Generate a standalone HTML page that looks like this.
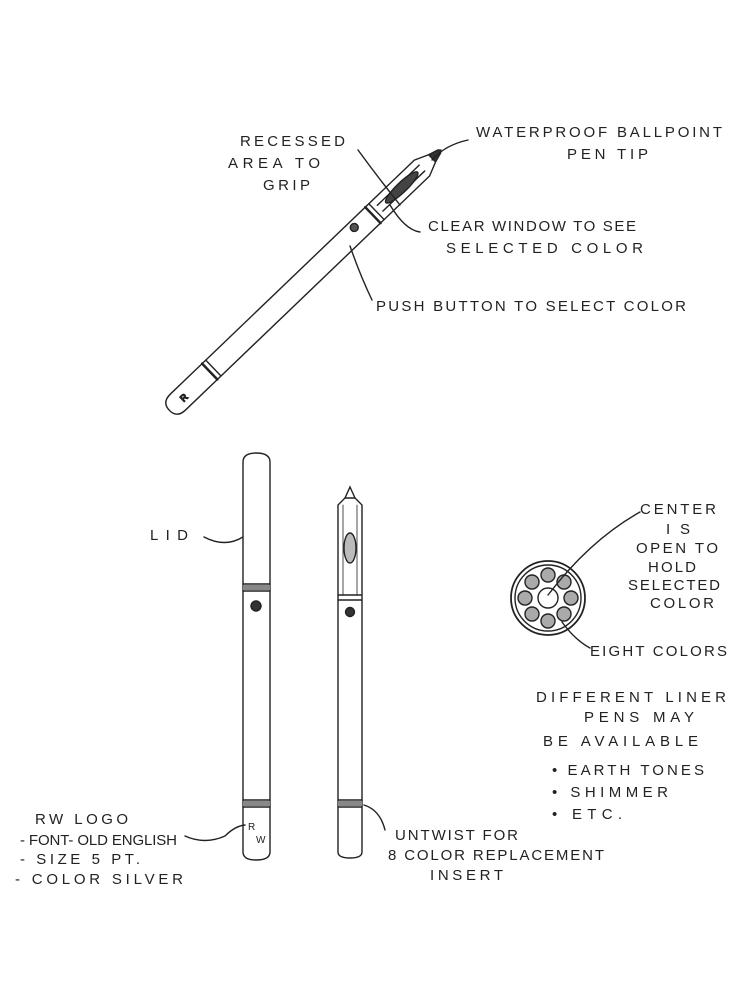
<!DOCTYPE html>
<html><head><meta charset="utf-8"><style>
html,body{margin:0;padding:0;background:#fff;}
svg{display:block}
text{font-family:"Liberation Sans",sans-serif;font-size:15px;fill:#222;}
</style></head><body>
<svg width="729" height="1000" viewBox="0 0 729 1000" xmlns="http://www.w3.org/2000/svg">
<g fill="none" stroke="#222" stroke-width="1.4" stroke-linecap="round">
<g transform="translate(178,402) rotate(-43.8)">
  <path d="M0,-11 L338,-11 L352,-5 L360,0 L352,5 L338,11 L0,11 Q-12,11 -12,0 Q-12,-11 0,-11 Z"/>
  <path d="M352,-5 L362,-2 L364,0 L362,2 L352,5 Z" fill="#333"/>
  <line x1="270" y1="-11" x2="270" y2="11" stroke-width="2.5"/>
  <line x1="275" y1="-11" x2="275" y2="11"/>
  <line x1="44" y1="-11" x2="44" y2="11" stroke-width="2.5"/>
  <line x1="49" y1="-11" x2="49" y2="11"/>
  <line x1="280" y1="-4" x2="338" y2="-4"/>
  <line x1="280" y1="4" x2="338" y2="4"/>
  <ellipse cx="310" cy="0" rx="22" ry="5" fill="#444"/>
  <circle cx="248" cy="-4" r="4" fill="#555"/>
  <text x="4" y="4" style="font-size:9px">R</text>
</g>
<path d="M358,150 Q380,180 400,205"/>
<path d="M468,140 Q445,145 432,160"/>
<path d="M420,232 Q405,230 390,205"/>
<path d="M372,300 Q360,275 350,246"/>
<path d="M243,462 Q243,453 256,453 Q270,453 270,462 L270,852 Q270,860 256,860 Q243,860 243,852 Z"/>
<path d="M243,584 L270,584 M243,591 L270,591 M243,800 L270,800 M243,807 L270,807"/>
<rect x="243" y="585" width="27" height="5" fill="#888" stroke="none"/>
<rect x="243" y="801" width="27" height="5" fill="#888" stroke="none"/>
<circle cx="256" cy="606" r="5" fill="#333"/>
<path d="M204,537 Q225,548 243,537"/>
<path d="M185,836 Q205,845 225,836 Q235,826 245,825"/>
<path d="M350,487 L355,498 L362,505 L362,852 Q362,858 350,858 Q338,858 338,852 L338,505 L345,498 Z"/>
<path d="M345,498 L355,498" />
<path d="M338,595 L362,595 M338,600 L362,600 M338,800 L362,800 M338,807 L362,807"/>
<rect x="338" y="801" width="24" height="5" fill="#888" stroke="none"/>
<path d="M343,505 L343,595 M357,505 L357,595" stroke-width="0.8"/>
<ellipse cx="350" cy="548" rx="6" ry="15" fill="#bbb"/>
<circle cx="350" cy="612" r="4.5" fill="#333"/>
<path d="M364,805 Q380,810 385,830"/>
<circle cx="548" cy="598" r="37" stroke-width="1.8"/>
<circle cx="548" cy="598" r="33"/>
<circle cx="548" cy="598" r="10" fill="#fff"/>
<g fill="#aaa">
<circle cx="548" cy="575" r="7"/><circle cx="564" cy="582" r="7"/><circle cx="571" cy="598" r="7"/><circle cx="564" cy="614" r="7"/>
<circle cx="548" cy="621" r="7"/><circle cx="532" cy="614" r="7"/><circle cx="525" cy="598" r="7"/><circle cx="532" cy="582" r="7"/>
</g>
<path d="M548,595 Q590,540 640,512"/>
<path d="M562,622 Q575,640 590,648"/>
</g>
<text x="240" y="146" textLength="105">RECESSED</text>
<text x="228" y="168" textLength="92">AREA TO</text>
<text x="263" y="190" textLength="47">GRIP</text>
<text x="476" y="137" textLength="246">WATERPROOF BALLPOINT</text>
<text x="567" y="159" textLength="81">PEN TIP</text>
<text x="428" y="231" textLength="208">CLEAR WINDOW TO SEE</text>
<text x="446" y="253" textLength="197">SELECTED COLOR</text>
<text x="376" y="311" textLength="310">PUSH BUTTON TO SELECT COLOR</text>
<text x="150" y="540" textLength="38">LID</text>
<text x="640" y="514" textLength="76">CENTER</text>
<text x="666" y="534" textLength="24">IS</text>
<text x="636" y="553" textLength="82">OPEN TO</text>
<text x="648" y="572" textLength="48">HOLD</text>
<text x="628" y="590" textLength="92">SELECTED</text>
<text x="650" y="608" textLength="64">COLOR</text>
<text x="590" y="656" textLength="137">EIGHT COLORS</text>
<text x="536" y="702" textLength="190">DIFFERENT LINER</text>
<text x="584" y="722" textLength="110">PENS MAY</text>
<text x="543" y="746" textLength="155">BE AVAILABLE</text>
<text x="552" y="775" textLength="152">• EARTH TONES</text>
<text x="552" y="797" textLength="116">• SHIMMER</text>
<text x="552" y="819" textLength="70">• ETC.</text>
<text x="35" y="824" textLength="93">RW LOGO</text>
<text x="20" y="845" textLength="157">- FONT- OLD ENGLISH</text>
<text x="20" y="864" textLength="120">- SIZE 5 PT.</text>
<text x="15" y="884" textLength="168">- COLOR SILVER</text>
<text x="395" y="840" textLength="123">UNTWIST FOR</text>
<text x="388" y="860" textLength="216">8 COLOR REPLACEMENT</text>
<text x="430" y="880" textLength="73">INSERT</text>
<text x="248" y="830" style="font-size:10px">R</text>
<text x="256" y="843" style="font-size:10px">W</text>
</svg>
</body></html>
